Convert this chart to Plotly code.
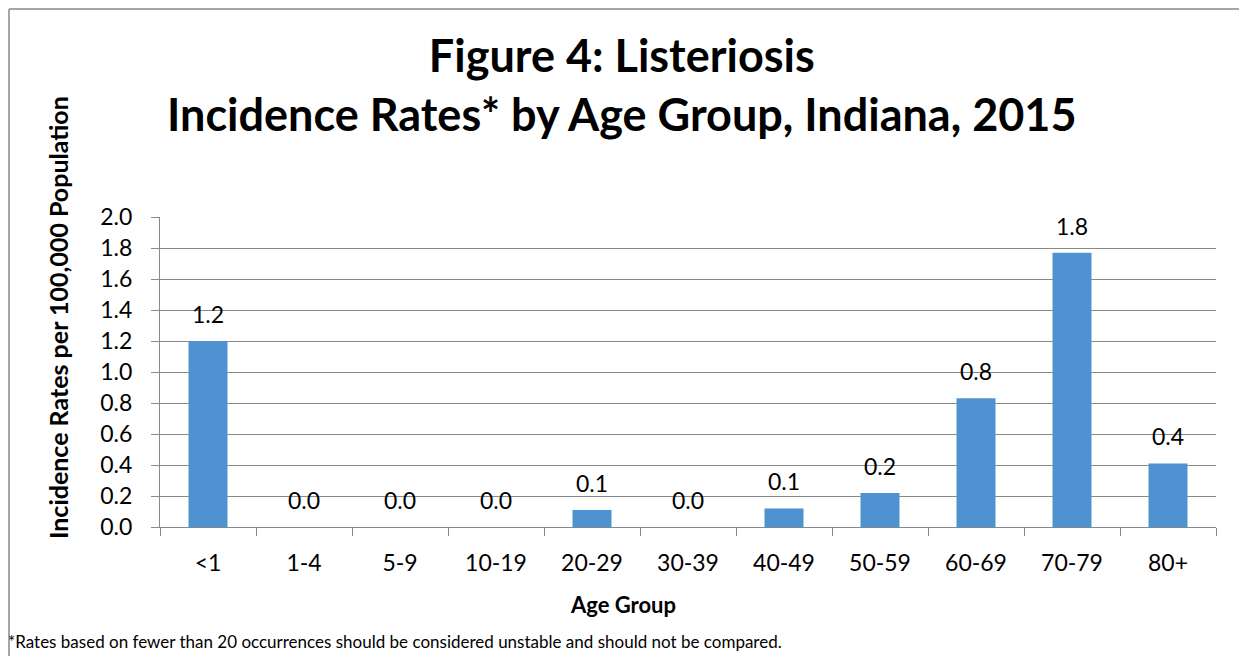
import plotly.graph_objects as go

age_groups = ["<1", "1-4", "5-9", "10-19", "20-29", "30-39", "40-49", "50-59", "60-69", "70-79", "80+"]
rates = [1.20, 0.0, 0.0, 0.0, 0.11, 0.0, 0.12, 0.22, 0.83, 1.77, 0.41]
rate_labels = ["1.2", "0.0", "0.0", "0.0", "0.1", "0.0", "0.1", "0.2", "0.8", "1.8", "0.4"]
y_ticks = [0.0, 0.2, 0.4, 0.6, 0.8, 1.0, 1.2, 1.4, 1.6, 1.8, 2.0]
y_tick_labels = ["0.0", "0.2", "0.4", "0.6", "0.8", "1.0", "1.2", "1.4", "1.6", "1.8", "2.0"]

FONT = "Lato"
OFF = 8  # page body margin
W, H = 1247 - 2 * OFF, 664 - 2 * OFF
# plot area in page pixels: x 160..1216, y 217..527
L = 160 - OFF
T = 217 - OFF
R = W - (1216 - OFF)
B = H - (527 - OFF)
PW, PH = W - L - R, H - T - B

def px(x):
    return (x - OFF - L) / PW

def py(y):
    return (H - B - (y - OFF)) / PH

fig = go.Figure()
fig.add_trace(go.Bar(
    x=age_groups, y=rates,
    marker=dict(color="#4f92d2", line=dict(width=0)),
    hoverinfo="x+y",
))

annotations = []
for cat, val, lab in zip(age_groups, rates, rate_labels):
    annotations.append(dict(
        x=cat, y=val, xref="x", yref="y", text=lab, showarrow=False,
        yanchor="middle", yshift=27, font=dict(family=FONT, size=23, color="#000000"),
    ))

annotations += [
    dict(x=px(622), y=py(84), xref="paper", yref="paper",
         text="<b>Figure 4: Listeriosis</b><br><b>Incidence Rates* by Age Group, Indiana, 2015</b>",
         showarrow=False, xanchor="center", yanchor="middle", align="center",
         font=dict(family=FONT, size=45, color="#000000")),
    dict(x=px(58), y=py(318), xref="paper", yref="paper",
         text="<b>Incidence Rates per 100,000 Population</b>", textangle=-90,
         showarrow=False, xanchor="center", yanchor="middle",
         font=dict(family=FONT, size=25, color="#000000")),
    dict(x=px(623), y=py(604), xref="paper", yref="paper", text="<b>Age Group</b>",
         showarrow=False, xanchor="center", yanchor="middle",
         font=dict(family=FONT, size=22, color="#000000")),
    dict(x=px(6), y=py(641), xref="paper", yref="paper",
         text="*Rates based on fewer than 20 occurrences should be considered unstable and should not be compared.",
         showarrow=False, xanchor="left", yanchor="middle",
         font=dict(family=FONT, size=17, color="#000000")),
]

border = dict(color="#a6a6a6", width=2)
fig.update_layout(
    width=W, height=H,
    margin=dict(l=L, r=R, t=T, b=B, autoexpand=False),
    paper_bgcolor="#ffffff", plot_bgcolor="#ffffff",
    bargap=0.594,
    showlegend=False,
    annotations=annotations,
    shapes=[
        dict(type="line", xref="paper", yref="paper",
             x0=px(OFF + 1), x1=px(OFF + 1), y0=py(700), y1=py(OFF + 1), line=border, layer="below"),
        dict(type="line", xref="paper", yref="paper",
             x0=px(OFF + 1), x1=px(1300), y0=py(OFF + 1), y1=py(OFF + 1), line=border, layer="below"),
    ],
    xaxis=dict(
        type="category", categoryorder="array", categoryarray=age_groups,
        showline=True, linecolor="#888888", linewidth=1,
        ticks="outside", tickson="boundaries", ticklen=8, tickcolor="#888888",
        showgrid=False, ticklabelstandoff=15,
        tickfont=dict(family=FONT, size=23, color="#000000"),
    ),
    yaxis=dict(
        range=[0, 2.0], tickvals=y_ticks, ticktext=y_tick_labels,
        showline=True, linecolor="#888888", linewidth=1,
        ticks="outside", ticklen=8, tickcolor="#888888",
        showgrid=True, gridcolor="#888888", gridwidth=1,
        zeroline=False, ticklabelstandoff=14,
        tickfont=dict(family=FONT, size=23, color="#000000"),
    ),
)

fig.write_html("out.html")
